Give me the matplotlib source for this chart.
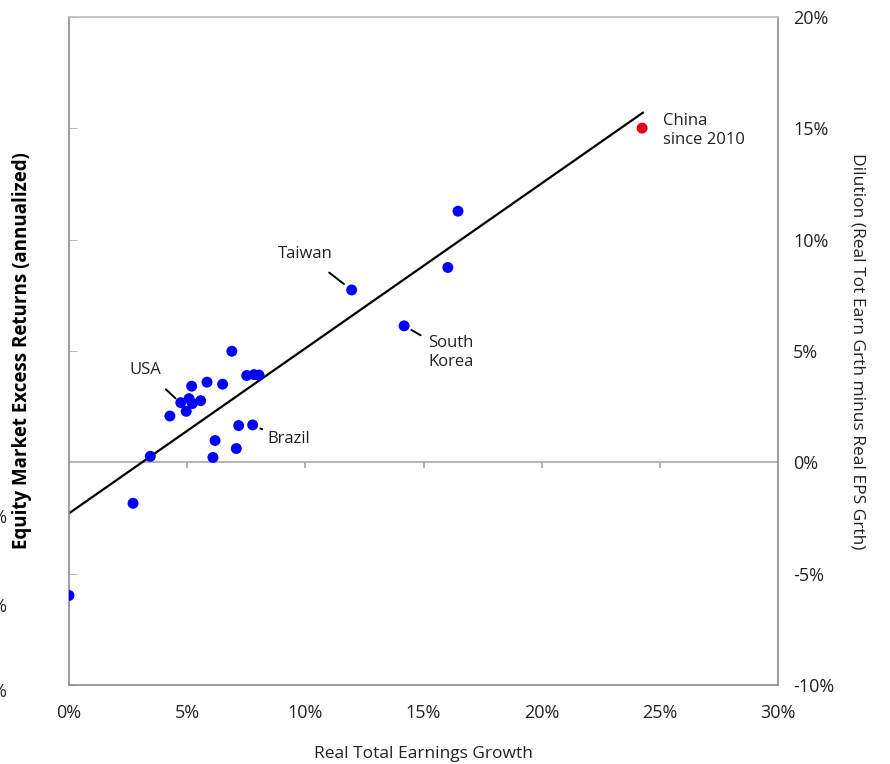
import numpy as np
import matplotlib.pyplot as plt

plt.rcParams['font.family'] = ['Open Sans', 'DejaVu Sans']

# real total earnings growth (%) vs dilution (%)
growth = [0.0, 2.71, 3.44, 4.27, 4.73, 4.96, 5.08, 5.22, 5.19, 5.57, 5.84, 6.50,
          6.89, 7.52, 7.83, 8.04, 7.18, 7.77, 6.18, 7.08, 6.09, 11.96, 16.03,
          14.18, 16.46]
dilution = [-5.98, -1.84, 0.27, 2.08, 2.68, 2.29, 2.86, 2.64, 3.42, 2.77, 3.60, 3.51,
            4.99, 3.90, 3.94, 3.92, 1.65, 1.68, 0.98, 0.62, 0.22, 7.74, 8.75,
            6.13, 11.28]
china = (24.25, 15.01)

# trend line
trend_intercept = -2.29
trend_slope = 0.741
trend_x = [0.0, 24.28]

xticks = [0, 5, 10, 15, 20, 25, 30]
yticks = [-10, -5, 0, 5, 10, 15, 20]
txt = '#222222'

fig = plt.figure(figsize=(8.9, 7.64), dpi=100)
ax = fig.add_axes([69 / 890, 79 / 764, 709 / 890, 668 / 764])

ax.set_xlim(0, 30)
ax.set_ylim(-10, 20)

ax.axhline(0, color='#a6a6a6', lw=1.2, zorder=1)
ax.vlines(xticks[1:-1], -0.25, 0, color='#a6a6a6', lw=1.2, zorder=1)

tx = np.array(trend_x)
ax.plot(tx, trend_intercept + trend_slope * tx, color='black', lw=1.6, zorder=2)

ax.scatter(growth, dilution, s=62, color='#0000ff', edgecolors='none', zorder=3)
ax.scatter([china[0]], [china[1]], s=62, color='#e3001b', edgecolors='none', zorder=3)

# annotations
ax.annotate('USA', xy=(4.68, 2.70), xytext=(3.23, 4.15), ha='center', va='center',
            fontsize=12, color=txt,
            arrowprops=dict(arrowstyle='-', color='black', lw=1.4, shrinkA=9, shrinkB=4))
ax.annotate('Brazil', xy=(7.82, 1.62), xytext=(8.4, 1.07), ha='left', va='center',
            fontsize=12, color=txt,
            arrowprops=dict(arrowstyle='-', color='black', lw=1.4, shrinkA=2, shrinkB=5))
ax.annotate('Taiwan', xy=(11.96, 7.74), xytext=(10.0, 9.35), ha='center', va='center',
            fontsize=12, color=txt,
            arrowprops=dict(arrowstyle='-', color='black', lw=1.4, shrinkA=9, shrinkB=7))
ax.annotate('South\nKorea', xy=(14.18, 6.13), xytext=(15.2, 4.93), ha='left', va='center',
            fontsize=12, color=txt, linespacing=1.25,
            arrowprops=dict(arrowstyle='-', color='black', lw=1.4, shrinkA=4, shrinkB=6))
ax.text(25.15, 14.9, 'China\nsince 2010', ha='left', va='center', fontsize=12,
        color=txt, linespacing=1.25)

# axes styling
for s in ['left', 'bottom', 'right']:
    ax.spines[s].set_color('#8c8c8c')
ax.spines['top'].set_color('#bdbdbd')
for s in ax.spines.values():
    s.set_linewidth(1.2)

ax.set_xticks(xticks)
ax.set_xticklabels([f'{v}%' for v in xticks])
ax.set_yticks(yticks)
ax.set_yticklabels([f'{v}%' for v in yticks])
ax.tick_params(axis='x', length=0, pad=14, labelsize=13, labelcolor=txt)
ax.tick_params(axis='y', left=True, right=False, labelleft=False, labelright=True,
               direction='in', length=6, color='#bdbdbd', pad=11, labelsize=13,
               labelcolor=txt)

ax.set_xlabel('Real Total Earnings Growth', fontsize=12.5, color=txt, labelpad=17)
ax.yaxis.set_label_position('right')
ax.set_ylabel('Dilution (Real Tot Earn Grth minus Real EPS Grth)', fontsize=12.5,
              color=txt, rotation=270, labelpad=22)

fig.text(22 / 890, 1 - 351 / 764, 'Equity Market Excess Returns (annualized)',
         rotation=90, ha='center', va='center', fontsize=13.5, fontweight='bold',
         color='black')

# clipped tick labels of the left axis at the image edge
for ypx, lab in [(518, '6%'), (607, '-6%'), (692, '-8%')]:
    fig.text(7 / 890, 1 - ypx / 764, lab, ha='right', va='center', fontsize=13,
             color=txt)

fig.savefig('out.png', dpi=100)
